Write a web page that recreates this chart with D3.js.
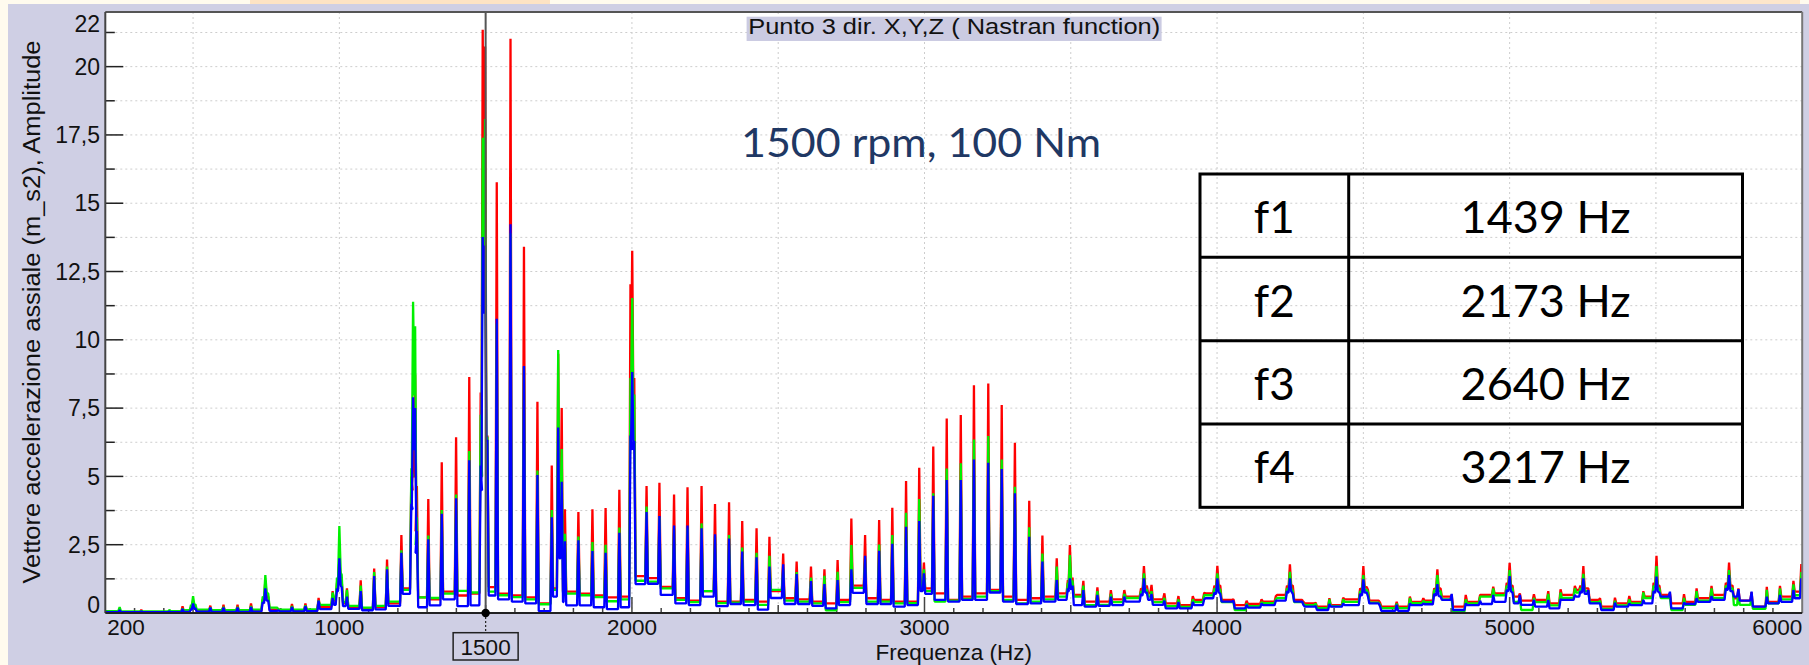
<!DOCTYPE html>
<html><head><meta charset="utf-8">
<script src="https://cdn.jsdelivr.net/npm/d3@7"></script>
<style>html,body{margin:0;padding:0;background:#fffbee;} svg{display:block;}</style>
</head><body><svg id="c" width="1809" height="665"></svg>
<script>
// ---------------- DATA ----------------
const peakHz = [200,249,323,419,464,493,500,508,559,604,
652,698,738,747,757,792,838,884,929,977,
992,1000,1008,1026,1073,1119,1163,1212,1246,1252,
1259,1265,1304,1350,1399,1444,1483,1490,1498,1506,
1538,1585,1631,1677,1726,1748,1760,1771,1817,1865,
1910,1957,1995,2001,2008,2050,2094,2144,2190,2238,
2284,2332,2377,2426,2470,2517,2563,2612,2658,2703,
2750,2797,2845,2890,2937,2982,2998,3030,3076,3124,
3169,3218,3264,3309,3358,3403,3452,3490,3497,3506,
3543,3591,3637,3683,3740,3750,3760,3776,3820,3868,
3917,3956,3991,4001,4011,4056,4101,4152,4201,4239,
4249,4259,4295,4337,4384,4431,4489,4500,4516,4557,
4614,4659,4705,4742,4753,4764,4802,4850,4899,4944,
4990,5000,5010,5035,5083,5132,5174,5223,5242,5252,
5269,5309,5360,5409,5457,5492,5502,5512,5548,5596,
5639,5690,5739,5750,5762,5782,5827,5879,5924,5970,
5997];

const redPeak = [0.03,0.12,0.12,0.07,0.25,0.20,0.45,0.22,0.27,0.30,
0.30,0.35,0.50,1.20,0.60,0.15,0.33,0.35,0.55,0.80,
1.10,2.04,1.20,0.90,1.20,1.63,1.96,2.85,5.00,5.50,
8.72,4.65,4.17,5.52,6.43,8.64,8.07,21.35,20.74,6.50,
15.77,21.02,13.41,7.73,5.40,9.49,7.50,3.80,3.70,3.80,
3.84,4.51,12.03,13.26,8.60,4.65,4.77,4.34,4.60,4.65,
3.99,4.05,3.37,3.10,2.79,2.18,1.88,1.70,1.60,1.94,
3.46,2.85,3.40,3.85,4.83,5.32,1.85,6.09,7.12,7.25,
8.34,8.40,7.61,6.23,4.11,2.84,2.00,1.20,2.49,1.30,
1.18,0.94,0.84,0.84,0.90,1.72,1.00,1.03,0.72,0.62,
0.62,0.74,1.00,1.73,1.00,0.50,0.45,0.50,0.62,1.00,
1.78,1.00,0.41,0.38,0.54,0.56,0.90,1.72,0.84,0.38,
0.41,0.60,0.54,0.90,1.60,0.90,0.66,0.66,0.66,0.96,
1.10,1.84,1.00,0.72,0.69,0.80,0.87,0.99,1.00,1.72,
0.90,0.54,0.56,0.62,0.80,1.10,2.09,1.00,0.72,0.69,
0.90,0.99,1.10,1.85,1.00,0.90,0.76,0.96,0.99,1.18,
1.79];

const greenPeak = [0.06,0.22,0.07,0.11,0.15,0.30,0.62,0.32,0.20,0.22,
0.22,0.25,0.60,1.39,0.70,0.12,0.25,0.28,0.45,0.75,
1.30,3.18,1.40,0.85,1.00,1.50,1.70,2.30,5.30,11.39,
10.50,3.50,2.84,3.77,4.34,5.93,7.26,17.40,18.08,6.45,
10.60,13.90,9.00,5.22,3.77,9.63,6.00,2.90,2.80,2.60,
2.50,3.13,8.60,11.53,8.00,3.90,3.50,3.10,3.10,3.28,
2.80,2.85,2.40,2.20,2.09,1.60,1.50,1.30,1.36,1.51,
2.49,2.00,2.51,2.85,3.67,4.17,1.60,4.38,5.29,5.48,
6.35,6.48,5.62,4.62,3.14,2.18,1.70,1.10,2.12,1.20,
1.00,0.80,0.70,0.70,0.80,1.45,0.85,0.80,0.55,0.50,
0.50,0.65,0.90,1.45,0.85,0.40,0.35,0.40,0.50,0.90,
1.51,0.80,0.35,0.35,0.50,0.50,0.80,1.39,0.75,0.30,
0.35,0.55,0.45,0.85,1.39,0.80,0.50,0.50,0.60,0.90,
1.00,1.57,0.90,0.60,0.55,0.70,0.75,0.90,0.90,1.43,
0.80,0.45,0.45,0.50,0.75,1.00,1.72,0.90,0.60,0.55,
0.80,0.90,1.00,1.57,0.90,0.80,0.60,0.85,0.90,1.05,
1.50];

const bluePeak = [0.02,0.10,0.05,0.05,0.15,0.15,0.35,0.18,0.20,0.20,
0.20,0.22,0.40,0.90,0.45,0.10,0.22,0.25,0.45,0.55,
0.90,2.00,0.95,0.60,0.80,1.35,1.60,2.20,4.00,7.90,
7.50,3.00,2.70,3.63,4.20,5.59,5.40,13.76,13.45,6.33,
10.77,14.23,9.04,5.05,3.50,6.79,4.80,2.63,2.66,2.27,
2.20,2.94,6.50,8.82,6.30,3.70,3.55,3.20,3.20,3.10,
2.88,2.73,2.25,2.04,1.70,1.78,1.43,1.17,1.06,1.21,
1.60,2.09,2.28,2.53,3.16,3.37,1.45,4.29,4.87,4.87,
5.62,5.50,5.27,4.38,2.79,1.88,1.21,0.90,1.27,1.00,
0.84,0.66,0.60,0.60,0.70,1.27,0.75,0.70,0.45,0.40,
0.40,0.50,0.75,1.27,0.70,0.45,0.30,0.35,0.45,0.80,
1.27,0.70,0.30,0.25,0.33,0.35,0.70,1.23,0.60,0.25,
0.30,0.35,0.35,0.70,1.06,0.60,0.70,0.35,0.45,0.66,
0.85,1.35,0.75,0.66,0.48,0.48,0.50,0.66,0.80,1.27,
0.84,0.35,0.38,0.35,0.48,0.80,1.33,0.75,0.78,0.38,
0.54,0.62,0.90,1.39,0.80,0.87,0.78,0.60,0.66,0.84,
1.27];

// level of each trace in the gap that follows each peak
const redFloor = [0.03,0.03,0.03,0.03,0.06,0.18,0.20,0.07,0.05,0.05,
0.05,0.08,0.45,0.60,0.12,0.08,0.08,0.10,0.22,0.45,
1.00,1.20,0.35,0.22,0.16,0.22,0.35,0.90,4.50,5.00,
3.00,0.57,0.50,0.78,0.64,0.71,5.00,12.50,6.40,0.95,
0.71,0.64,0.57,0.35,0.90,3.00,0.80,0.78,0.71,0.64,
0.57,0.60,8.00,7.00,1.35,1.28,0.96,0.54,0.45,0.80,
0.42,0.42,0.48,0.42,0.80,0.54,0.50,0.42,0.35,0.48,
1.00,0.54,0.48,0.42,0.42,1.00,0.90,0.72,0.48,0.60,
0.72,0.85,0.60,0.48,0.54,0.60,0.72,1.00,1.10,0.66,
0.42,0.42,0.50,0.60,0.85,0.95,0.72,0.50,0.35,0.29,
0.48,0.72,0.95,1.00,0.48,0.29,0.33,0.42,0.66,0.95,
1.00,0.48,0.35,0.23,0.29,0.50,0.85,0.95,0.45,0.23,
0.23,0.41,0.45,0.85,0.90,0.60,0.23,0.41,0.66,0.72,
1.05,1.00,0.60,0.45,0.48,0.35,0.66,0.85,0.95,0.90,
0.48,0.23,0.35,0.41,0.60,1.05,1.00,0.66,0.35,0.41,
0.54,0.66,1.05,1.00,0.54,0.45,0.23,0.41,0.60,0.78,
1.50];

const greenFloor = [0.07,0.06,0.06,0.07,0.10,0.25,0.28,0.12,0.10,0.10,
0.10,0.12,0.55,0.75,0.20,0.12,0.12,0.13,0.30,0.50,
1.20,1.50,0.40,0.26,0.20,0.26,0.42,0.85,5.00,8.00,
2.50,0.57,0.55,0.71,0.81,0.75,5.00,12.50,6.40,0.78,
0.65,0.58,0.50,0.32,0.85,2.50,0.75,0.71,0.65,0.58,
0.43,0.50,7.50,6.50,1.18,1.15,0.90,0.48,0.40,0.80,
0.36,0.38,0.42,0.30,0.85,0.45,0.42,0.35,0.10,0.40,
0.92,0.42,0.42,0.35,0.36,0.90,0.80,0.42,0.45,0.52,
0.60,0.80,0.48,0.35,0.42,0.50,0.60,0.95,1.00,0.60,
0.29,0.30,0.40,0.55,0.75,0.85,0.60,0.40,0.25,0.22,
0.40,0.65,0.85,0.90,0.40,0.11,0.25,0.36,0.55,0.85,
0.90,0.40,0.29,0.18,0.25,0.41,0.75,0.85,0.38,0.18,
0.18,0.36,0.40,0.80,0.80,0.50,0.05,0.35,0.60,0.65,
0.95,0.90,0.41,0.11,0.40,0.28,0.55,0.75,0.85,0.80,
0.40,0.15,0.28,0.35,0.55,0.95,0.90,0.55,0.11,0.30,
0.45,0.55,0.95,0.90,0.29,0.30,0.15,0.35,0.50,0.65,
1.30];

const blueFloor = [0.03,0.03,0.03,0.03,0.04,0.12,0.15,0.05,0.04,0.04,
0.04,0.05,0.35,0.45,0.08,0.06,0.06,0.07,0.14,0.30,
0.80,1.00,0.25,0.15,0.10,0.13,0.26,0.70,3.80,6.00,
2.20,0.21,0.28,0.50,0.25,0.28,4.50,11.00,6.30,0.64,
0.50,0.42,0.35,0.07,0.60,2.00,0.40,0.28,0.28,0.21,
0.14,0.21,6.00,6.00,1.06,1.07,0.66,0.35,0.29,0.60,
0.25,0.33,0.29,0.12,0.55,0.33,0.33,0.26,0.17,0.29,
0.74,0.33,0.33,0.23,0.29,0.80,0.70,0.48,0.42,0.48,
0.48,0.75,0.42,0.33,0.35,0.42,0.48,0.80,0.85,0.29,
0.23,0.26,0.29,0.42,0.65,0.75,0.48,0.30,0.17,0.17,
0.29,0.54,0.70,0.75,0.42,0.17,0.20,0.29,0.45,0.75,
0.78,0.42,0.23,0.11,0.23,0.29,0.65,0.75,0.35,0.08,
0.08,0.29,0.32,0.65,0.62,0.48,0.11,0.29,0.33,0.41,
0.80,0.78,0.35,0.30,0.23,0.17,0.48,0.60,0.75,0.70,
0.35,0.11,0.23,0.29,0.35,0.75,0.78,0.60,0.17,0.33,
0.41,0.48,0.85,0.80,0.60,0.45,0.23,0.35,0.41,0.54,
1.10];

const xTickValues = [200, 1000, 2000, 3000, 4000, 5000, 6000];
const xTickLabels = ["200", "1000", "2000", "3000", "4000", "5000", "6000"];
const yTickValues = [0, 2.5, 5, 7.5, 10, 12.5, 15, 17.5, 20, 22];
const yTickLabels = ["0", "2,5", "5", "7,5", "10", "12,5", "15", "17,5", "20", "22"];
const cursorHz = 1500;
const tableNames = ["f1", "f2", "f3", "f4"];
const tableValues = ["1439 Hz", "2173 Hz", "2640 Hz", "3217 Hz"];
const titleText = "Punto 3 dir. X,Y,Z ( Nastran function)";
const noteText = "1500 rpm, 100 Nm";
const xTitle = "Frequenza (Hz)";
const yTitle = "Vettore accelerazione assiale (m_s2), Amplitude";

// ---------------- LAYOUT ----------------
const W = 1809, H = 665;
const P = {left: 105.3, right: 1802.2, top: 12, bottom: 613};
const LAV = "#cfcfe4";
const FONT = "'Liberation Sans', Arial, Helvetica, sans-serif";
const CAL = "Lato, 'Open Sans', sans-serif";

const svg = d3.select("#c");
const x = d3.scaleLinear().domain([200, 6000]).range([P.left, P.right]);
const y = d3.scaleLinear().domain([0, 22]).range([P.bottom, P.top]);

// background / slide edges
svg.append("rect").attr("x",0).attr("y",0).attr("width",W).attr("height",H).attr("fill","#fffbee");
svg.append("rect").attr("x",8).attr("y",4).attr("width",W-8).attr("height",H-4).attr("fill",LAV);
svg.append("rect").attr("x",250).attr("y",0).attr("width",300).attr("height",4).attr("fill","#fde3c4");
svg.append("rect").attr("x",1590).attr("y",0).attr("width",210).attr("height",4).attr("fill","#fde6cb");

// plot area
svg.append("rect").attr("x",P.left).attr("y",P.top).attr("width",P.right-P.left).attr("height",P.bottom-P.top).attr("fill","#fff");

// grid
const gridY = d3.range(1, 18).map(k => k * 1.25);
svg.append("g").selectAll("line").data(gridY).join("line")
  .attr("x1",P.left).attr("x2",P.right).attr("y1",d=>y(d)).attr("y2",d=>y(d))
  .attr("stroke","#cdcdcd").attr("stroke-width",1).attr("stroke-dasharray","2,3");
const gridX = d3.range(1, 12).map(k => k * 500);
svg.append("g").selectAll("line").data(gridX).join("line")
  .attr("y1",P.top).attr("y2",P.bottom).attr("x1",d=>x(d)).attr("x2",d=>x(d))
  .attr("stroke","#cdcdcd").attr("stroke-width",1).attr("stroke-dasharray","2,3");

// ticks
svg.append("g").selectAll("line").data(gridY).join("line")
  .attr("x1",P.left).attr("x2",(d,i)=>P.left + (i % 2 === 1 ? 18 : 9.5))
  .attr("y1",d=>y(d)).attr("y2",d=>y(d)).attr("stroke","#222").attr("stroke-width",1.5);
const xMinor = d3.range(3, 60).map(k => k * 100);
svg.append("g").selectAll("line").data(xMinor).join("line")
  .attr("x1",d=>x(d)).attr("x2",d=>x(d)).attr("y1",P.bottom)
  .attr("y2",d=>P.bottom - (d % 1000 === 0 ? 16 : d % 500 === 0 ? 8 : 5))
  .attr("stroke","#444").attr("stroke-width",1.5);

// traces
svg.append("defs").append("clipPath").attr("id","pc").append("rect")
  .attr("x",P.left).attr("y",P.top).attr("width",P.right-P.left).attr("height",P.bottom-P.top);
const hw = 4.5;
function tracePoints(peaks, floors) {
  const pts = [[peakHz[0], peaks[0]], [peakHz[0] + hw, floors[0]]];
  for (let i = 1; i < peakHz.length; i++) {
    pts.push([peakHz[i] - hw, floors[i-1]]);
    pts.push([peakHz[i], peaks[i]]);
    pts.push([Math.min(6000, peakHz[i] + hw), floors[i]]);
  }
  pts.push([6000, floors[floors.length-1]]);
  return pts;
}
const line = d3.line().x(d => x(d[0])).y(d => y(d[1]));
const gTr = svg.append("g").attr("clip-path","url(#pc)");
[[redPeak, redFloor, "#ff0000"], [greenPeak, greenFloor, "#00f000"], [bluePeak, blueFloor, "#0000ff"]]
  .forEach(([pk, fl, col]) => {
    gTr.append("path").attr("d", line(tracePoints(pk, fl)))
      .attr("fill","none").attr("stroke",col).attr("stroke-width",2.3)
      .attr("stroke-linejoin","bevel");
  });

// frame
svg.append("line").attr("x1",P.left).attr("x2",P.right).attr("y1",P.top).attr("y2",P.top).attr("stroke","#555").attr("stroke-width",2);
svg.append("line").attr("x1",P.left).attr("x2",P.left).attr("y1",P.top).attr("y2",P.bottom).attr("stroke","#444").attr("stroke-width",2);
svg.append("line").attr("x1",P.right).attr("x2",P.right).attr("y1",P.top).attr("y2",P.bottom).attr("stroke","#777").attr("stroke-width",2);
svg.append("line").attr("x1",P.left).attr("x2",P.right).attr("y1",P.bottom).attr("y2",P.bottom).attr("stroke","#222").attr("stroke-width",2);

// y labels
svg.append("g").selectAll("text").data(yTickValues).join("text")
  .attr("x",100).attr("y",d => {
    let c = y(d);
    if (d === 22) c = 24; if (d === 0) c = 605;
    return c + 8.2;
  })
  .attr("text-anchor","end").attr("font-family",FONT).attr("font-size",23).attr("fill","#111")
  .text((d,i)=>yTickLabels[i]);

// x labels
svg.append("g").selectAll("text").data(xTickValues).join("text")
  .attr("x",d => d === 200 ? x(d) + 2 : (d === 6000 ? P.right : x(d)))
  .attr("y",635)
  .attr("text-anchor",d => d === 200 ? "start" : (d === 6000 ? "end" : "middle"))
  .attr("font-family",FONT).attr("font-size",22.5).attr("fill","#111")
  .text((d,i)=>xTickLabels[i]);

// axis titles
svg.append("text").attr("x",(P.left+P.right)/2).attr("y",659.5).attr("text-anchor","middle")
  .attr("font-family",FONT).attr("font-size",22.5).attr("fill","#111").text(xTitle);
svg.append("text").attr("transform","translate(40,312) rotate(-90)").attr("text-anchor","middle")
  .attr("font-family",FONT).attr("font-size",23.5).attr("fill","#111")
  .attr("textLength",543).attr("lengthAdjust","spacingAndGlyphs").text(yTitle);

// chart title
svg.append("rect").attr("x",746.6).attr("y",16.7).attr("width",415).attr("height",24.3).attr("fill","#cbcbe2");
svg.append("text").attr("x",954.2).attr("y",34.3).attr("text-anchor","middle")
  .attr("font-family",FONT).attr("font-size",22.5).attr("fill","#111")
  .attr("textLength",412).attr("lengthAdjust","spacingAndGlyphs").text(titleText);

// cursor
const cx = x(cursorHz);
svg.append("line").attr("x1",cx).attr("x2",cx).attr("y1",P.top).attr("y2",P.bottom).attr("stroke","#555").attr("stroke-width",2);
svg.append("line").attr("x1",cx).attr("x2",cx).attr("y1",P.bottom+4).attr("y2",632.7).attr("stroke","#222").attr("stroke-width",1.2).attr("stroke-dasharray","2,2");
svg.append("circle").attr("cx",cx).attr("cy",P.bottom).attr("r",4.2).attr("fill","#000");
svg.append("rect").attr("x",cx-32.5).attr("y",632.7).attr("width",65).attr("height",27.3).attr("fill",LAV).attr("stroke","#222").attr("stroke-width",1.5);
svg.append("text").attr("x",cx).attr("y",655).attr("text-anchor","middle")
  .attr("font-family",FONT).attr("font-size",22.5).attr("fill","#111").text(String(cursorHz));

// annotation
svg.append("text").attr("x",921).attr("y",156.7).attr("text-anchor","middle")
  .attr("font-family",CAL).attr("font-size",40).attr("fill","#1f3864")
  .attr("textLength",360).attr("lengthAdjust","spacingAndGlyphs").text(noteText);

// table
const tX = [1200, 1348.7, 1742.5];
const rowH = 83.33, tTop = 174;
const gT = svg.append("g");
gT.append("rect").attr("x",tX[0]).attr("y",tTop).attr("width",tX[2]-tX[0]).attr("height",rowH*4)
  .attr("fill","none").attr("stroke","#000").attr("stroke-width",3);
gT.append("line").attr("x1",tX[1]).attr("x2",tX[1]).attr("y1",tTop).attr("y2",tTop+rowH*4).attr("stroke","#000").attr("stroke-width",3);
d3.range(1,4).forEach(k => gT.append("line").attr("x1",tX[0]).attr("x2",tX[2]).attr("y1",tTop+k*rowH).attr("y2",tTop+k*rowH).attr("stroke","#000").attr("stroke-width",3));
tableNames.forEach((n,i) => {
  gT.append("text").attr("x",(tX[0]+tX[1])/2).attr("y",tTop + i*rowH + 59.4).attr("text-anchor","middle")
    .attr("font-family",CAL).attr("font-size",44).attr("fill","#000").text(n);
  gT.append("text").attr("x",(tX[1]+tX[2])/2).attr("y",tTop + i*rowH + 59.4).attr("text-anchor","middle")
    .attr("font-family",CAL).attr("font-size",44).attr("fill","#000")
    .attr("textLength",170).attr("lengthAdjust","spacingAndGlyphs").text(tableValues[i]);
});
</script>
</body></html>
